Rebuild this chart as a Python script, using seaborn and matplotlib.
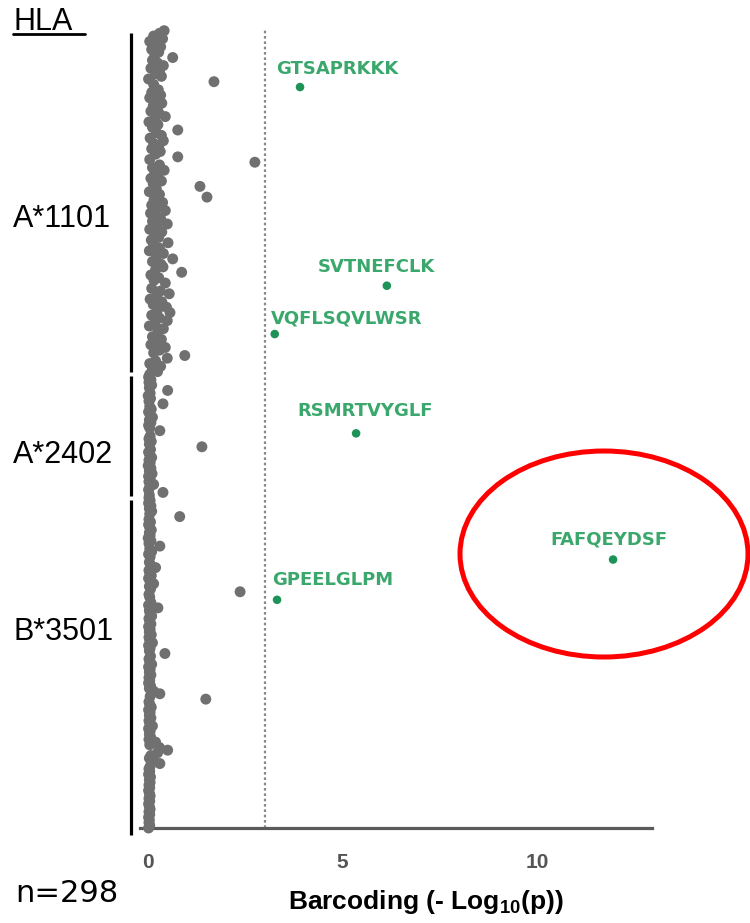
import pandas as pd
import matplotlib
matplotlib.use("Agg")
import matplotlib.pyplot as plt
import matplotlib.transforms as mtransforms
from matplotlib.patches import Ellipse
from matplotlib.lines import Line2D
import seaborn as sns

# -log10(p) dla kazdego peptydu, od gory do dolu, w podziale na allele HLA
a1101 = [0.42, 0.30, 0.15, 0.38, 0.05, 0.22, 0.33, 0.10, 0.28, 0.18,
         0.64, 0.12, 0.25, 0.40, 0.08, 0.30, 0.20, 0.35, 0.02, 1.70,
         0.15, 3.91, 0.27, 0.10, 0.33, 0.05, 0.20, 0.36, 0.14, 0.25,
         0.08, 0.30, 0.45, 0.18, 0.03, 0.26, 0.12, 0.77, 0.22, 0.35,
         0.06, 0.40, 0.15, 0.28, 0.10, 0.32, 0.20, 0.77, 0.05, 2.75,
         0.30, 0.12, 0.42, 0.18, 0.25, 0.08, 0.35, 0.14, 1.34, 0.22,
         0.04, 0.30, 1.52, 0.16, 0.38, 0.10, 0.26, 0.45, 0.07, 0.20,
         0.33, 0.12, 0.50, 0.24, 0.05, 0.36, 0.18, 0.28, 0.09, 0.52,
         0.15, 0.30, 0.04, 0.40, 0.22, 0.64, 0.12, 0.34, 0.39, 0.20,
         0.87, 0.08, 0.28, 0.16, 0.45, 6.14, 0.10, 0.32, 0.55, 0.22,
         0.06, 0.36, 0.14, 0.48, 0.25, 0.57, 0.10, 0.30, 0.50, 0.18,
         0.04, 0.40, 0.26, 3.26, 0.12, 0.35, 0.22, 0.08, 0.45, 0.30,
         0.15, 0.95, 0.50, 0.20, 0.05, 0.33, 0.12, 0.25]
a2402 = [0.05, 0.02, 0.08, 0.03, 0.10, 0.04, 0.51, 0.06, 0.01, 0.07,
         0.03, 0.39, 0.05, 0.09, 0.02, 0.06, 0.12, 0.04, 0.08, 0.02,
         0.05, 0.31, 5.35, 0.06, 0.03, 0.09, 0.04, 1.39, 0.07, 0.02,
         0.05, 0.10, 0.03, 0.06, 0.01, 0.08, 0.04, 0.11, 0.02, 0.06,
         0.03, 0.15, 0.05, 0.02, 0.39, 0.04]
b3501 = [0.03, 0.06, 0.02, 0.08, 0.04, 0.10, 0.05, 0.82, 0.03, 0.07,
         0.02, 0.05, 0.09, 0.04, 0.06, 0.01, 0.08, 0.03, 0.31, 0.05,
         0.10, 0.02, 0.06, 11.95, 0.04, 0.07, 0.20, 0.03, 0.05, 0.09,
         0.02, 0.06, 0.15, 0.04, 0.07, 2.37, 0.03, 0.05, 3.32, 0.08,
         0.02, 0.26, 0.04, 0.06, 0.10, 0.03, 0.05, 0.08, 0.02, 0.06,
         0.04, 0.09, 0.03, 0.05, 0.12, 0.02, 0.06, 0.04, 0.44, 0.07,
         0.03, 0.05, 0.10, 0.02, 0.06, 0.04, 0.08, 0.03, 0.05, 0.02,
         0.07, 0.04, 0.15, 0.31, 0.06, 1.49, 0.03, 0.05, 0.09, 0.02,
         0.06, 0.04, 0.08, 0.03, 0.05, 0.12, 0.02, 0.06, 0.04, 0.07,
         0.03, 0.20, 0.05, 0.30, 0.51, 0.25, 0.08, 0.04, 0.15, 0.31,
         0.06, 0.03, 0.05, 0.02, 0.07, 0.04, 0.06, 0.03, 0.05, 0.02,
         0.04, 0.06, 0.03, 0.05, 0.02, 0.04, 0.06, 0.03, 0.05, 0.02,
         0.04, 0.03, 0.05, 0.02]
alleles = ["A*1101", "A*2402", "B*3501"]

# trafienia (zielone) - nazwa peptydu i pozycja na liscie
hit_names = ["GTSAPRKKK", "SVTNEFCLK", "VQFLSQVLWSR", "RSMRTVYGLF", "FAFQEYDSF", "GPEELGLPM"]
hit_index = [21, 95, 113, 150, 197, 212]

threshold = 3
xticks = [0, 5, 10]

# przesuniecia etykiet w pikselach (lewa krawedz, srodek)
label_offsets = [(-24, 18), (-69, 19), (-4, 16), (-59, 22), (-63, 20), (-5, 20)]
allele_label_y = [70, 158, 224]

# ramka danych
values = a1101 + a2402 + b3501
df = pd.DataFrame({"pos": range(len(values)), "score": values})
df["kind"] = ["hit" if i in hit_index else "other" for i in df["pos"]]
df = df.sort_values("kind", ascending=False)

sns.set_style("white")
plt.rcParams["font.family"] = ["Liberation Sans", "DejaVu Sans"]
plt.rcParams["text.color"] = "black"
plt.rcParams["mathtext.fontset"] = "custom"
plt.rcParams["mathtext.rm"] = "Liberation Sans:bold"
plt.rcParams["mathtext.bf"] = "Liberation Sans:bold"

W, H = 750, 923
fig = plt.figure(figsize=(W / 100, H / 100), dpi=100)
ax = fig.add_axes([140 / W, 1 - 828 / H, 512 / W, 800 / H])

ax.axvline(threshold, color="#8a8a8a", ls=(0, (1.2, 1.2)), lw=1.6, zorder=0)

sns.scatterplot(data=df, x="score", y="pos", hue="kind", size="kind",
                palette={"other": "#707070", "hit": "#1d9358"},
                sizes={"other": 62, "hit": 38},
                linewidth=0, legend=False, ax=ax, zorder=3, clip_on=False)

ax.set_xlim(-0.2, 12.95)
ax.set_ylim(len(values) - 1, -1)
ax.set_yticks([])
ax.set_xticks(xticks)
ax.set_xlabel("")
ax.set_ylabel("")
for s in ["left", "top", "right"]:
    ax.spines[s].set_visible(False)
ax.spines["bottom"].set_color("#5a5a5a")
ax.spines["bottom"].set_linewidth(2.3)
ax.tick_params(axis="x", length=5, width=1.8, color="#5a5a5a",
               labelcolor="#555555", labelsize=15, pad=13)
for lbl in ax.get_xticklabels():
    lbl.set_fontweight("bold")

# etykiety trafien
for name, i, (dx, dy) in zip(hit_names, hit_index, label_offsets):
    ax.annotate(name, xy=(values[i], i), xytext=(dx, dy), textcoords="offset pixels",
                ha="left", va="center", color="#3aa86c", fontsize=13,
                fontweight="bold", family="DejaVu Sans")

# paski alleli po lewej stronie
trans = mtransforms.blended_transform_factory(ax.transAxes, ax.transData)
sizes = [len(a1101), len(a2402), len(b3501)]
start = 0
for k, (name, n) in enumerate(zip(alleles, sizes)):
    end = start + n - 1
    y0 = start + 0.7
    y1 = end + 0.3 if k < len(sizes) - 1 else end + 2.5
    ax.plot([-0.0176, -0.0176], [y0, y1], transform=trans, color="black",
            lw=2.3, solid_capstyle="butt", clip_on=False)
    ax.text(-0.248, allele_label_y[k], name, transform=trans, ha="left",
            va="center", fontsize=22, color="black")
    start += n

# naglowek HLA
fig.text(13 / W, 1 - 22 / H, "HLA", ha="left", va="center", fontsize=22, color="black")
fig.add_artist(Line2D([13 / W, 85 / W], [1 - 34 / H, 1 - 34 / H], color="black", lw=2))

fig.text(15 / W, 1 - 894 / H, "n=%d" % len(values), ha="left", va="center",
         fontsize=22, family="DejaVu Sans", color="black")
fig.text(426 / W, 1 - 902 / H, r"Barcoding (- Log$_{10}$(p))", ha="center",
         va="center", fontsize=19, fontweight="bold", color="black")

# czerwona elipsa
fig.add_artist(Ellipse((604 / W, 1 - 554 / H), 288 / W, 206 / H,
                       transform=fig.transFigure, fill=False, ec="#ff0000", lw=3.6))

fig.savefig("out.png", dpi=100)
